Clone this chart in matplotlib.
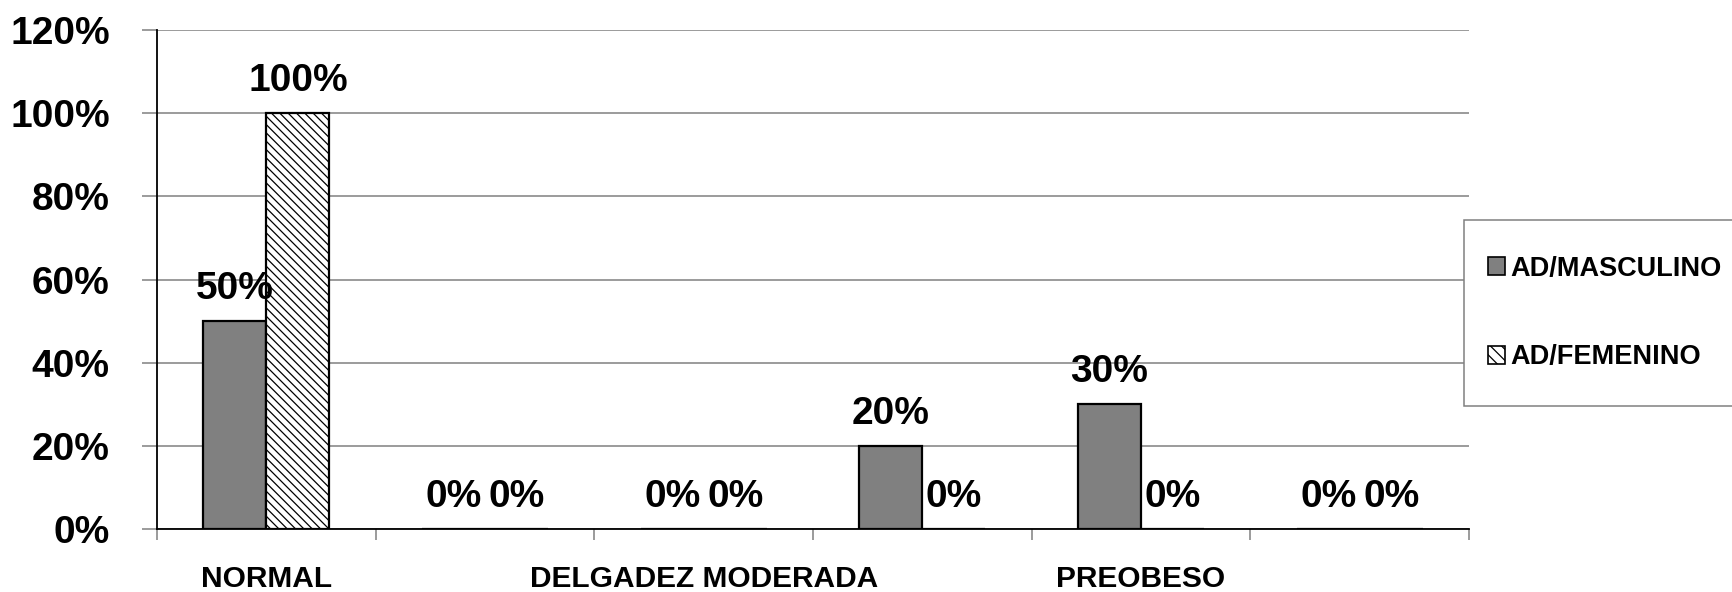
import numpy as np
import matplotlib
matplotlib.use("Agg")
import matplotlib.pyplot as plt
from matplotlib.patches import Rectangle, Patch

# categories (Excel hid every other label)
categories = ['NORMAL', '', 'DELGADEZ MODERADA', '', 'PREOBESO', '']
masculino = [50, 0, 0, 20, 30, 0]
femenino = [100, 0, 0, 0, 0, 0]
series_names = ['AD/MASCULINO', 'AD/FEMENINO']
yticks = [0, 20, 40, 60, 80, 100, 120]

wide = ['Liberation Sans', 'DejaVu Sans']
plt.rcParams['hatch.linewidth'] = 0.9

fig = plt.figure(figsize=(17.33, 5.92), dpi=100)
ax = fig.add_axes([157 / 1733, 1 - 529 / 592, (1469 - 157) / 1733, 499 / 592])

x = np.arange(len(categories))
w = 0.288
b1 = ax.bar(x - w / 2, masculino, w, color='#808080', edgecolor='black', linewidth=1.6, zorder=3)
b2 = ax.bar(x + w / 2, femenino, w, color='white', edgecolor='black', linewidth=1.6,
            hatch='\\\\\\\\', zorder=3)

for bars, vals in [(b1, masculino), (b2, femenino)]:
    for r, v in zip(bars, vals):
        ax.annotate(f'{v}%', (r.get_x() + r.get_width() / 2, v), xytext=(0, 16),
                    textcoords='offset points', ha='center', va='baseline',
                    fontsize=28, fontweight='bold', family=wide, zorder=4)

ax.set_xlim(-0.5, len(categories) - 0.5)
ax.set_ylim(0, 120)
ax.set_yticks(yticks)
ax.set_yticklabels([f'{t}%' for t in yticks], fontsize=28, fontweight='bold', family=wide)
ax.yaxis.grid(True, color='#808080', linewidth=1.1, zorder=0)
ax.tick_params(axis='y', length=11, width=1.1, color='#808080', pad=23)

ax.set_xticks(x)
ax.set_xticklabels(categories, fontsize=21.5, fontweight='bold', family=wide)
ax.set_xticks(np.arange(len(categories) + 1) - 0.5, minor=True)
ax.tick_params(axis='x', which='major', length=0, pad=26)
ax.tick_params(axis='x', which='minor', length=8, width=1.1, color='#808080')

for s in ['top', 'right']:
    ax.spines[s].set_visible(False)
for s in ['left', 'bottom']:
    ax.spines[s].set_color('black')
    ax.spines[s].set_linewidth(1.3)

# legend box, runs off the right edge like the original
fig.patches.append(Rectangle((1464 / 1733, 1 - 406 / 592), 0.2, 186 / 592,
                             transform=fig.transFigure, facecolor='white',
                             edgecolor='#808080', linewidth=1.1, zorder=0))
handles = [Patch(facecolor='#808080', edgecolor='black', linewidth=1.2),
           Patch(facecolor='white', edgecolor='black', linewidth=1.2, hatch='\\\\\\')]
leg = fig.legend(handles, series_names, loc='center left',
                 bbox_to_anchor=(1474 / 1733, 1 - 313 / 592), frameon=False,
                 prop={'family': wide, 'weight': 'bold', 'size': 19.5},
                 handlelength=0.65, handleheight=0.65, handletextpad=0.2,
                 labelspacing=2.3, borderpad=0)

fig.savefig('out.png', dpi=100)
